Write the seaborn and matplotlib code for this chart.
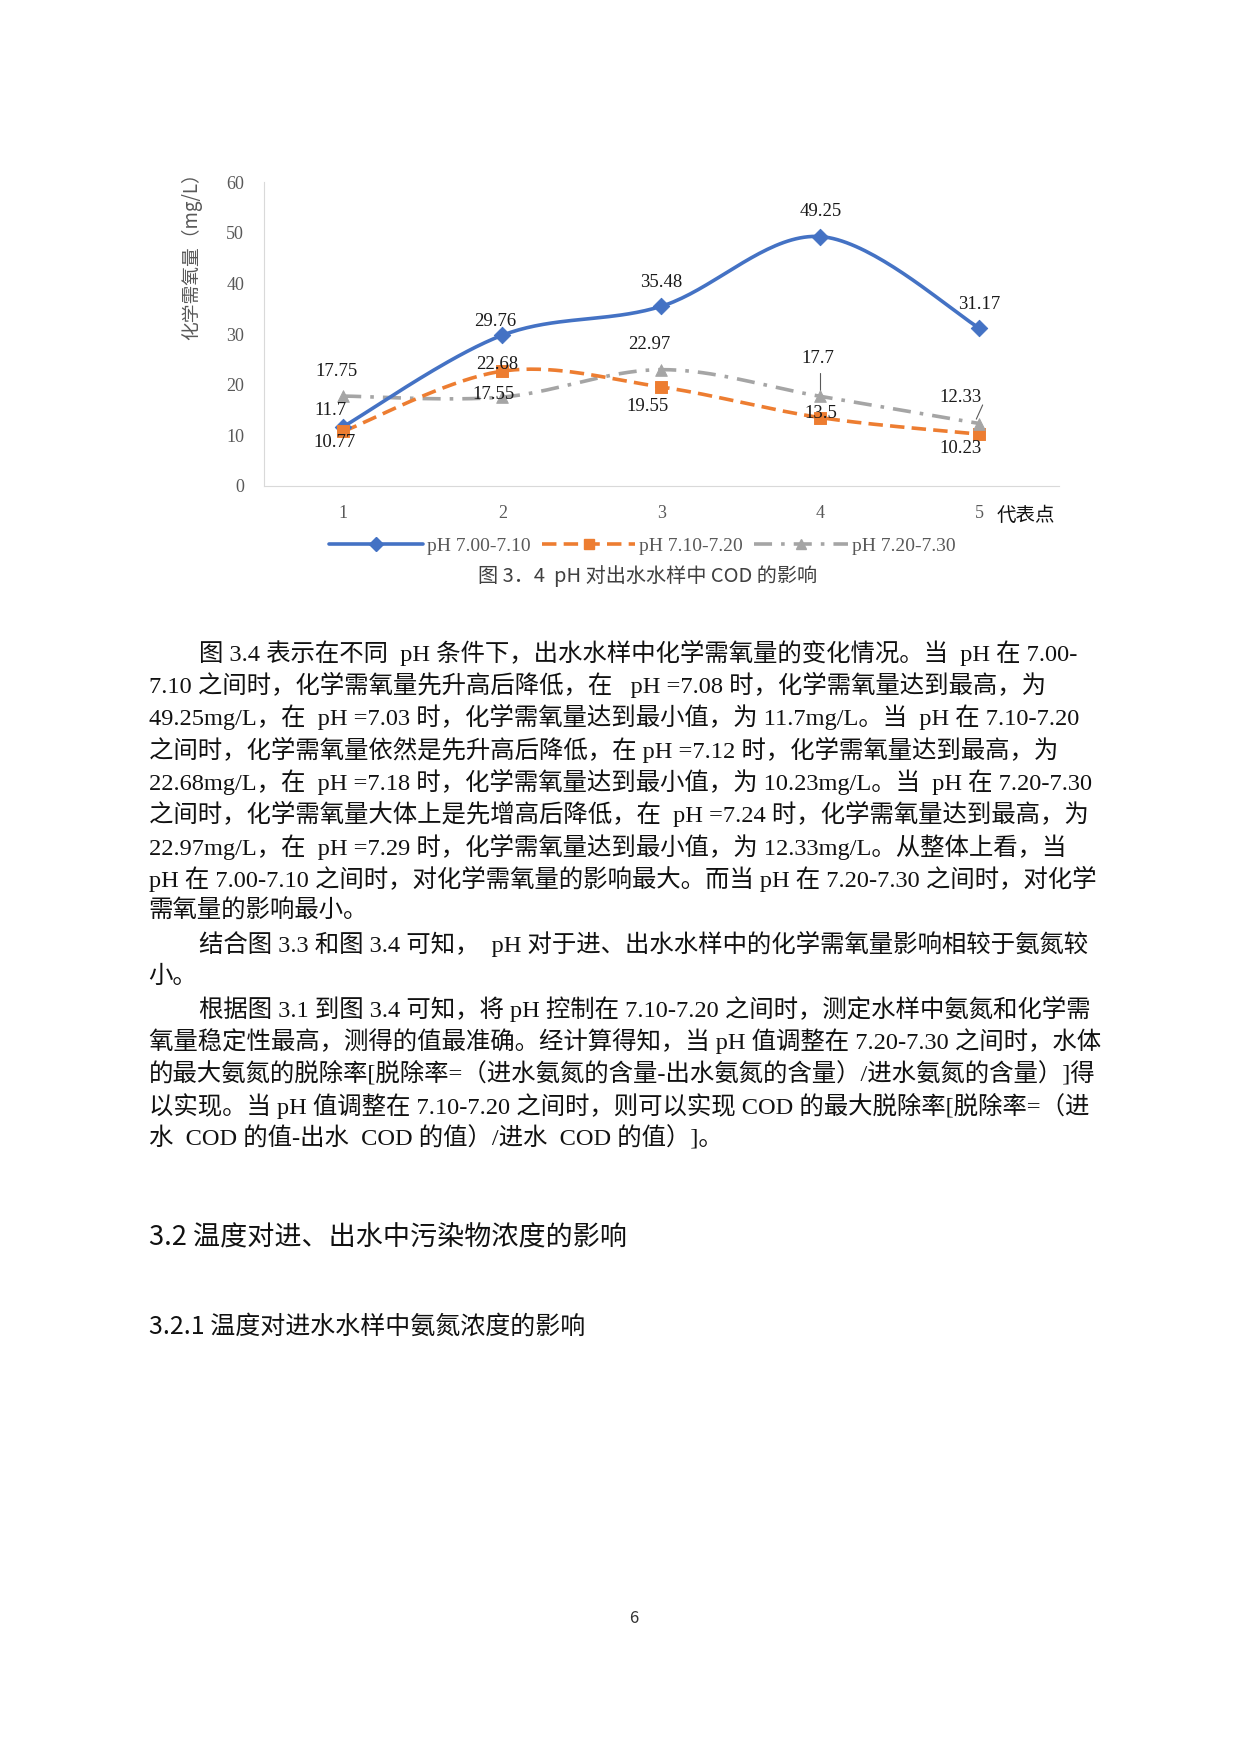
import numpy as np
import pandas as pd
import matplotlib
matplotlib.use("Agg")
import matplotlib.pyplot as plt
import seaborn as sns

points = [1, 2, 3, 4, 5]
series_names = ["pH 7.00-7.10", "pH 7.10-7.20", "pH 7.20-7.30"]
cod_low = [11.7, 29.76, 35.48, 49.25, 31.17]
cod_mid = [10.77, 22.68, 19.55, 13.5, 10.23]
cod_high = [17.75, 17.55, 22.97, 17.7, 12.33]
yticks = [0, 10, 20, 30, 40, 50, 60]

colorlist = ["#4472C4", "#ED7D31", "#A5A5A5"]
markers = ["D", "s", "^"]
line_styles = ["solid", (0, (4, 2)), (0, (5, 2.5, 1, 2.5))]
# label centre offsets in points (dx, dy) for each value
offsets = [
    [(-9, 12), (-5, 10), (0, 17), (0, 18), (0, 17)],
    [(-6, -8), (-4, 5), (-10, -14), (0, 3), (-14, -10)],
    [(-5, 18), (-6, 2), (-9, 18), (-2, 27), (-14, 19)],
]

sns.set_style("white")
serif = ["Liberation Serif", "Noto Sans CJK SC"]
plt.rcParams["font.family"] = serif
plt.rcParams["axes.unicode_minus"] = False

W, H = 1110.0, 1570.0  # layout units


def fx(x):
    return x / W


def fy(y):
    return 1 - y / H


def smooth(xs, ys, n=40):
    # Catmull-Rom style curve through the points (chart smoothing)
    xs = np.asarray(xs, float)
    ys = np.asarray(ys, float)
    px = np.concatenate([[xs[0]], xs, [xs[-1]]])
    py = np.concatenate([[ys[0]], ys, [ys[-1]]])
    ox, oy = [], []
    for i in range(1, len(px) - 2):
        t = np.linspace(0, 1, n)
        for arr, out in ((px, ox), (py, oy)):
            p0, p1, p2, p3 = arr[i - 1], arr[i], arr[i + 1], arr[i + 2]
            out.extend(0.5 * ((2 * p1) + (-p0 + p2) * t + (2 * p0 - 5 * p1 + 4 * p2 - p3) * t ** 2
                              + (-p0 + 3 * p1 - 3 * p2 + p3) * t ** 3))
    return np.array(ox), np.array(oy)


fig = plt.figure(figsize=(12.4, 17.54), dpi=100)
ax = fig.add_axes([fx(236), fy(435), fx(948) - fx(236), fy(163) - fy(435)])

all_series = [cod_low, cod_mid, cod_high]
handles = []
for i, vals in enumerate(all_series):
    sx, sy = smooth(points, vals)
    df = pd.DataFrame({"x": sx, "y": sy})
    sns.lineplot(data=df, x="x", y="y", ax=ax, color=colorlist[i], linewidth=2.6,
                 linestyle=line_styles[i], sort=False, estimator=None, zorder=3 - i * 0.1)
    sns.scatterplot(x=points, y=vals, ax=ax, color=colorlist[i], marker=markers[i],
                    s=70, edgecolor=colorlist[i], zorder=4)
    handles.append(plt.Line2D([0], [0], color=colorlist[i], linestyle=line_styles[i],
                              linewidth=2.6, marker=markers[i], markersize=7))
    for j, v in enumerate(vals):
        dx, dy = offsets[i][j]
        ax.annotate(f"{v:g}", (points[j], v), xytext=(dx, dy), textcoords="offset points",
                    ha="center", va="center", fontsize=13.5,
                    family=serif, color="#1a1a1a", zorder=5)

# leader lines for gray labels
ax.plot([4, 4], [18.5, 22.3], color="#595959", linewidth=0.8)
ax.plot([4.98, 5.02], [13.2, 16.0], color="#595959", linewidth=0.8)

ax.set_xlim(0.5, 5.5)
ax.set_ylim(0, 60)
ax.set_yticks(yticks)
ax.set_xticks(points)
ax.tick_params(length=0, labelsize=13, colors="#595959", pad=14)
ax.set_xlabel("")
ax.set_ylabel("")
for s in ["top", "right"]:
    ax.spines[s].set_visible(False)
for s in ["left", "bottom"]:
    ax.spines[s].set_color("#D9D9D9")

fig.text(fx(172), fy(225), "化学需氧量（mg/L）", rotation=90, ha="center", va="center",
         fontsize=13.5, color="#595959", family=["Noto Sans CJK SC", "DejaVu Sans"])
fig.text(fx(918), fy(461), "代表点", ha="center", va="center", fontsize=14,
         family=["Noto Sans CJK SC", "DejaVu Sans"], color="#111111")
fig.legend(handles, series_names, loc="center", bbox_to_anchor=(fx(575), fy(489)), ncol=3,
           frameon=False, fontsize=14, handlelength=4.8, columnspacing=0.6, handletextpad=0.2,
           labelcolor="#595959")
fig.text(fx(580), fy(516), "图 3．4  pH 对出水水样中 COD 的影响", ha="center", va="center",
         fontsize=14.5, color="#404040", family=["Noto Sans CJK SC", "DejaVu Sans"])

body = [
    (178, 584, "图 3.4 表示在不同  pH 条件下，出水水样中化学需氧量的变化情况。当  pH 在 7.00-"),
    (133, 613, "7.10 之间时，化学需氧量先升高后降低，在   pH =7.08 时，化学需氧量达到最高，为"),
    (133, 642, "49.25mg/L，在  pH =7.03 时，化学需氧量达到最小值，为 11.7mg/L。当  pH 在 7.10-7.20"),
    (133, 671, "之间时，化学需氧量依然是先升高后降低，在 pH =7.12 时，化学需氧量达到最高，为"),
    (133, 700, "22.68mg/L，在  pH =7.18 时，化学需氧量达到最小值，为 10.23mg/L。当  pH 在 7.20-7.30"),
    (133, 729, "之间时，化学需氧量大体上是先增高后降低，在  pH =7.24 时，化学需氧量达到最高，为"),
    (133, 758, "22.97mg/L，在  pH =7.29 时，化学需氧量达到最小值，为 12.33mg/L。从整体上看，当"),
    (133, 787, "pH 在 7.00-7.10 之间时，对化学需氧量的影响最大。而当 pH 在 7.20-7.30 之间时，对化学"),
    (133, 816, "需氧量的影响最小。"),
    (178, 845, "结合图 3.3 和图 3.4 可知，  pH 对于进、出水水样中的化学需氧量影响相较于氨氮较"),
    (133, 874, "小。"),
    (178, 903, "根据图 3.1 到图 3.4 可知，将 pH 控制在 7.10-7.20 之间时，测定水样中氨氮和化学需"),
    (133, 932, "氧量稳定性最高，测得的值最准确。经计算得知，当 pH 值调整在 7.20-7.30 之间时，水体"),
    (133, 961, "的最大氨氮的脱除率[脱除率=（进水氨氮的含量-出水氨氮的含量）/进水氨氮的含量）]得"),
    (133, 990, "以实现。当 pH 值调整在 7.10-7.20 之间时，则可以实现 COD 的最大脱除率[脱除率=（进"),
    (133, 1019, "水  COD 的值-出水  COD 的值）/进水  COD 的值）]。"),
]
for x, y, t in body:
    fig.text(fx(x), fy(y), t, ha="left", va="center", fontsize=17.6, family=serif, color="#111111")

fig.text(fx(133), fy(1108), "3.2 温度对进、出水中污染物浓度的影响", ha="left", va="center",
         fontsize=19.5, family=["Noto Sans CJK SC", "DejaVu Sans"], color="#111111")
fig.text(fx(133), fy(1188), "3.2.1 温度对进水水样中氨氮浓度的影响", ha="left", va="center",
         fontsize=18, family=["Noto Sans CJK SC", "DejaVu Sans"], color="#111111")
fig.text(fx(567), fy(1449), "6", ha="center", va="center", fontsize=12,
         family=["Noto Sans CJK SC", "DejaVu Sans"], color="#333333")

fig.savefig("out.png", dpi=100)
